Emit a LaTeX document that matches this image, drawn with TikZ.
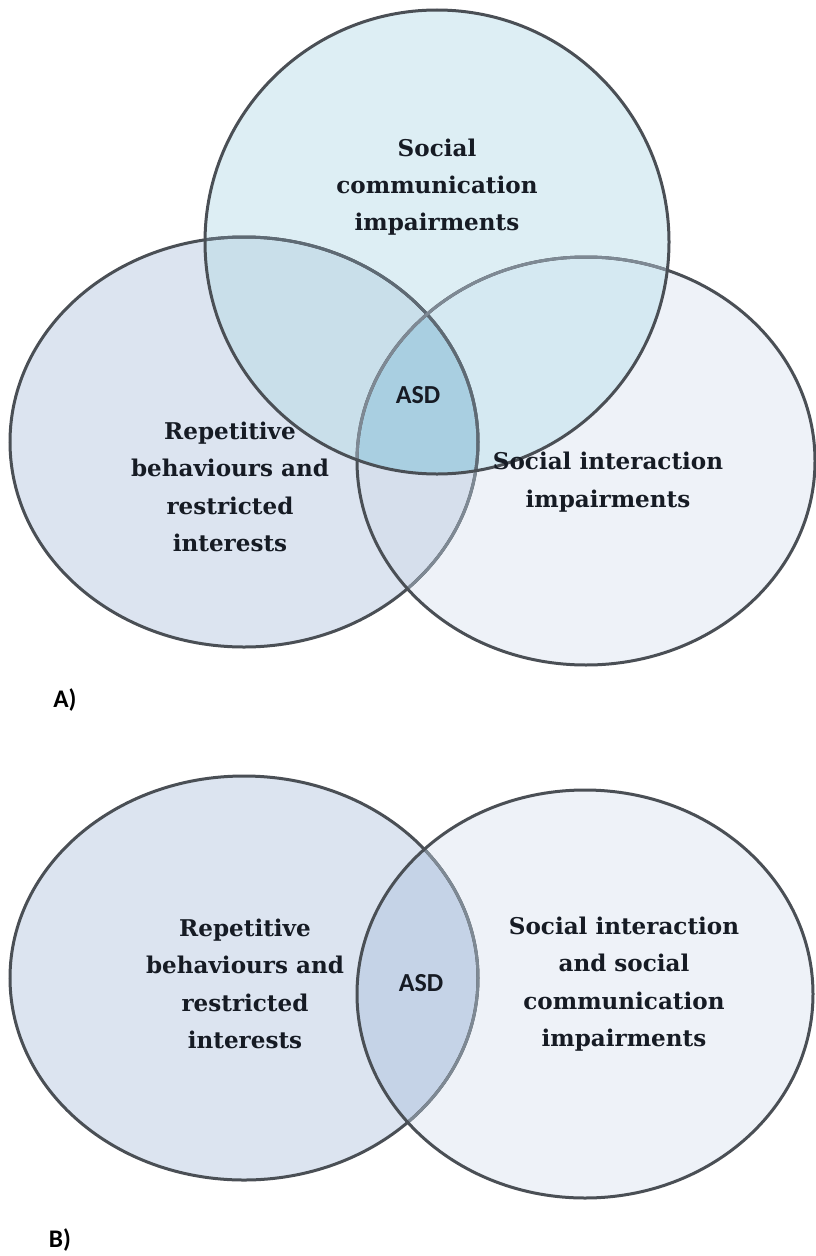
\documentclass[tikz,border=0pt]{standalone}
\usepackage{fontspec}
\setmainfont{DejaVu Serif}
\newfontfamily\calibfont{Carlito}
\usepackage{tikz}
\usetikzlibrary{positioning}
\usepackage{xcolor}
\definecolor{ringgray}{HTML}{4A4F55}
\definecolor{ringsoft}{HTML}{7E8994}
\definecolor{ringmid}{HTML}{5E6A74}
\definecolor{labeldark}{HTML}{161B24}
\definecolor{repblue}{HTML}{DCE4F0}
\definecolor{socblue}{HTML}{EEF2F8}
\definecolor{combluea}{HTML}{DDEEF4}
\definecolor{repsocblue}{HTML}{D6DFEC}
\definecolor{repcomblue}{HTML}{C9DFEA}
\definecolor{soccomblue}{HTML}{D5E9F2}
\definecolor{asdblue}{HTML}{A9CFE1}
\definecolor{asdblueb}{HTML}{C5D3E7}

\def\repA{(244,442) ellipse [x radius=234, y radius=205]}
\def\socA{(586,461) ellipse [x radius=229, y radius=204]}
\def\comA{(437,242) ellipse [x radius=232, y radius=232]}
\def\repB{(244,978) ellipse [x radius=234, y radius=202]}
\def\socB{(585,994) ellipse [x radius=228, y radius=204]}

\begin{document}
\begin{tikzpicture}[
    x=0.75pt, y=-0.75pt,
    ring/.style={draw=ringgray, line width=2.25pt},
    lbl/.style={font=\bfseries\fontsize{17.3}{28}\selectfont, align=center,
                text=labeldark},
    core/.style={font=\calibfont\bfseries\fontsize{19.5}{22}\selectfont,
                 text=labeldark},
    tag/.style={font=\calibfont\bfseries\fontsize{19}{22}\selectfont, text=black}
]
\useasboundingbox (0,0) rectangle (816,1256);
\fill[white] (0,0) rectangle (816,1256);

% A) three sets
\fill[repblue] \repA;
\fill[socblue] \socA;
\begin{scope}
  \clip \repA;
  \fill[repsocblue] \socA;
\end{scope}
\fill[combluea] \comA;
\begin{scope}
  \clip \comA;
  \fill[repcomblue] \repA;
  \fill[soccomblue] \socA;
  \clip \repA;
  \fill[asdblue] \socA;
\end{scope}
\draw[ring] \repA;
\begin{scope}
  \clip \socA;
  \draw[ring, draw=ringsoft] \repA;
\end{scope}
\draw[ring] \socA;
\begin{scope}
  \clip \comA;
  \draw[ring, draw=ringmid] \repA;
  \draw[ring, draw=ringsoft] \socA;
\end{scope}
\draw[ring] \comA;

\node[lbl] (comlabel) at (437,187) {Social\\communication\\impairments};
\node[core] (asdA) at (418,395) {ASD};
\node[lbl] (replabel) at (230,487) {Repetitive\\behaviours and\\restricted\\interests};
\node[lbl] (soclabel) at (608,482) {Social interaction\\impairments};
\node[tag] (tagA) at (65,700) {A)};

% B) two sets
\fill[repblue] \repB;
\fill[socblue] \socB;
\begin{scope}
  \clip \repB;
  \fill[asdblueb] \socB;
\end{scope}
\draw[ring] \repB;
\begin{scope}
  \clip \socB;
  \draw[ring, draw=ringsoft] \repB;
\end{scope}
\draw[ring] \socB;

\node[lbl] (replabelB) at (245,984) {Repetitive\\behaviours and\\restricted\\interests};
\node[core] (asdB) at (421,983) {ASD};
\node[lbl] (soclabelB) at (624,984) {Social interaction\\and social\\communication\\impairments};
\node[tag] (tagB) at (60,1240) {B)};
\end{tikzpicture}
\end{document}
